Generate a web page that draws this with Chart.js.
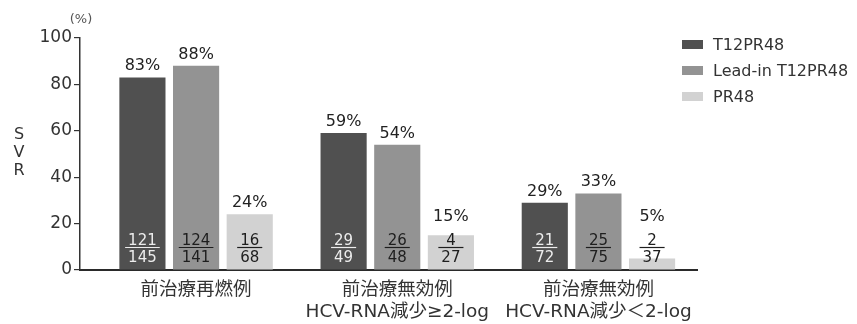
<!DOCTYPE html>
<html>
<head>
<meta charset="utf-8">
<script src="https://cdn.jsdelivr.net/npm/chart.js@4"></script>
<style>
  html, body { margin: 0; padding: 0; background: #fff; }
  #wrap { position: relative; width: 857px; height: 324px; }
  #legend { position: absolute; left: 682px; top: 36px; font-family: 'DejaVu Sans', sans-serif; font-size: 16px; color: #333; }
  .item { position: relative; height: 26px; line-height: 18px; white-space: nowrap; }
  .sw { position: absolute; left: 0; top: 4px; width: 21px; height: 9px; }
  .tx { position: absolute; left: 31px; top: 0; }
</style>
</head>
<body>
<div id="wrap">
  <canvas id="c" width="857" height="324"></canvas>
  <div id="legend"></div>
</div>
<script>
// Patient groups (x-axis categories)
const categories = [
  ['前治療再燃例'],
  ['前治療無効例', 'HCV-RNA減少≥2-log'],
  ['前治療無効例', 'HCV-RNA減少＜2-log']
];
const seriesNames = ['T12PR48', 'Lead-in T12PR48', 'PR48'];
// SVR rate (%)
const svrT12 = [83, 59, 29];
const svrLeadIn = [88, 54, 33];
const svrPR48 = [24, 15, 5];
// responders / patients
const numT12 = [121, 29, 21];
const denT12 = [145, 49, 72];
const numLeadIn = [124, 26, 25];
const denLeadIn = [141, 48, 75];
const numPR48 = [16, 4, 2];
const denPR48 = [68, 27, 37];
const yTicks = [0, 20, 40, 60, 80, 100];

const colors = ['#505050', '#939393', '#d2d2d2'];
const fracText = ['#ececec', '#1e1e1e', '#1e1e1e'];
const values = [svrT12, svrLeadIn, svrPR48];
const nums = [numT12, numLeadIn, numPR48];
const dens = [denT12, denLeadIn, denPR48];

const FONT = "'DejaVu Sans', 'Noto Sans CJK JP', sans-serif";

// legend
const legend = document.getElementById('legend');
seriesNames.forEach((name, i) => {
  const d = document.createElement('div');
  d.className = 'item';
  d.innerHTML = '<span class="sw" style="background:' + colors[i] + '"></span><span class="tx">' + name + '</span>';
  legend.appendChild(d);
});

// value labels, fractions and axis captions
const labelPlugin = {
  id: 'svrLabels',
  afterDatasetsDraw(chart) {
    const ctx = chart.ctx;
    const base = chart.scales.y.getPixelForValue(0);
    ctx.save();
    chart.data.datasets.forEach((ds, di) => {
      const meta = chart.getDatasetMeta(di);
      meta.data.forEach((bar, i) => {
        const x = bar.x;
        // percentage above the bar (kept clear of the fraction)
        ctx.fillStyle = '#222';
        ctx.font = '16px ' + FONT;
        ctx.textAlign = 'center';
        ctx.textBaseline = 'alphabetic';
        const py = Math.min(bar.y - 7, base - 49);
        ctx.fillText(values[di][i] + '%', x, py);
        // n / N fraction at the foot of the bar
        ctx.font = '15px ' + FONT;
        ctx.fillStyle = fracText[di];
        ctx.fillText(String(nums[di][i]), x, base - 25);
        ctx.fillText(String(dens[di][i]), x, base - 8);
        const w = Math.max(ctx.measureText(String(nums[di][i])).width, ctx.measureText(String(dens[di][i])).width) + 6;
        ctx.strokeStyle = fracText[di];
        ctx.lineWidth = 1.2;
        ctx.beginPath();
        ctx.moveTo(x - w / 2, base - 22.5);
        ctx.lineTo(x + w / 2, base - 22.5);
        ctx.stroke();
      });
    });
    // axis captions
    ctx.fillStyle = '#333';
    ctx.textAlign = 'center';
    ctx.font = '16px ' + FONT;
    ['S', 'V', 'R'].forEach((ch, k) => ctx.fillText(ch, 19, 139 + k * 18));
    ctx.font = '13px ' + FONT;
    ctx.fillStyle = '#555';
    ctx.fillText('(%)', 81, 23);
    ctx.restore();
  }
};

const datasets = seriesNames.map((name, di) => ({
  label: name,
  data: values[di].map((v, i) => ({ x: i, y: v })),
  backgroundColor: colors[di],
  borderWidth: 0,
  categoryPercentage: 0.8,
  barPercentage: 0.86
}));

new Chart(document.getElementById('c'), {
  type: 'bar',
  data: { datasets },
  options: {
    responsive: false,
    animation: false,
    layout: { padding: { top: 38, right: 160, left: 0, bottom: 0 } },
    plugins: { legend: { display: false }, tooltip: { enabled: false } },
    scales: {
      x: {
        type: 'linear',
        offset: false,
        min: -0.577,
        max: 2.49,
        afterBuildTicks(scale) { scale.ticks = categories.map((c, i) => ({ value: i })); },
        afterFit(scale) { scale.height = 54; },
        grid: { display: false, drawTicks: false, offset: false },
        border: { display: true, color: '#2a2a2a', width: 2 },
        ticks: {
          autoSkip: false,
          maxRotation: 0,
          padding: 9,
          color: '#333',
          font: { size: 18.5, family: FONT, lineHeight: 1.2 },
          callback: (v) => categories[v]
        }
      },
      y: {
        min: 0,
        max: 100,
        afterBuildTicks(scale) { scale.ticks = yTicks.map(v => ({ value: v })); },
        afterFit(scale) { scale.width = 80; },
        grid: { drawOnChartArea: false, drawTicks: true, tickLength: 6, color: '#333', lineWidth: 1.2 },
        border: { display: true, color: '#333', width: 1.5 },
        ticks: {
          padding: 2,
          color: '#333',
          font: { size: 17, family: FONT }
        }
      }
    }
  },
  plugins: [labelPlugin]
});
</script>
</body>
</html>
